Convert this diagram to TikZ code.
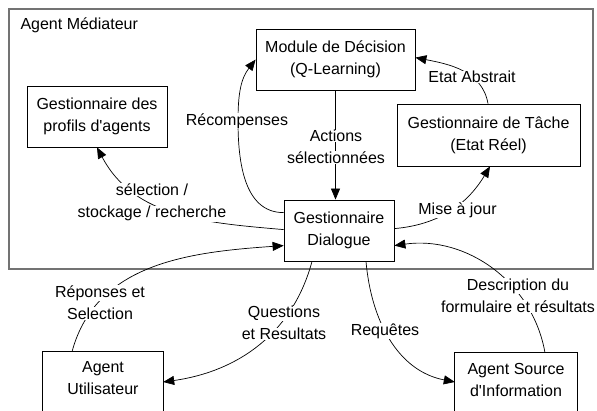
\documentclass[tikz,border=0pt]{standalone}
\usepackage{fontspec}
\setmainfont{Liberation Sans}[Ligatures=TeXOff]
\usetikzlibrary{arrows.meta}
\newcommand\wbx[1]{{\setlength\fboxsep{0.6pt}\colorbox{white}{#1}}}
\begin{document}
\begin{tikzpicture}[x=1pt,y=1pt,
  every node/.style={font=\fontsize{16}{22}\selectfont},
  box/.style={draw=black, line width=0.8pt, align=center, inner sep=0pt},
  lbl/.style={align=center, inner sep=0pt},
  arr/.style={line width=0.7pt, -{Triangle[length=11pt,width=9pt]}},
  frame/.style={draw=black!55, line width=1.6pt}]
\useasboundingbox (0,0) rectangle (597,410);
\clip (0,0) rectangle (597,410);
\fill[white] (0,0) rectangle (597,410);
% container
\draw[frame] (9,141) rectangle (593,401);
\node[anchor=west] (titre) at (17,385) {Agent Médiateur};
% boxes
\node[box, minimum width=159pt, minimum height=61pt] (mod) at (335.5,350.5) {Module de Décision\\(Q-Learning)};
\node[box, minimum width=140pt, minimum height=61pt] (prof) at (97,293.5) {Gestionnaire des\\profils d'agents};
\node[box, minimum width=183pt, minimum height=62pt] (tache) at (488.5,275) {Gestionnaire de Tâche\\(Etat Réel)};
\node[box, minimum width=110pt, minimum height=61pt] (dlg) at (339,179.5) {Gestionnaire\\Dialogue};
\node[lbl, minimum width=120pt, minimum height=53pt] (usr) at (103,31.5) {Agent\\Utilisateur};
\node[lbl, minimum width=122pt, minimum height=53pt] (src) at (516,30.5) {Agent Source\\d'Information};
\draw[line width=0.8pt] (usr.south west) ++(0,-10) |- (usr.north east) -- ++(0,-70);
\draw[line width=0.8pt] (src.south west) ++(0,-10) |- (src.north east) -- ++(0,-70);
% connectors
\coordinate (crec) at (238,289);
\draw[arr] ([yshift=-13pt]dlg.north west) to[out=180,in=-90] (crec) to[out=90,in=232] ([yshift=-31pt]mod.north west);
\draw[arr] (mod.south) -- (mod.south |- dlg.north);
\draw[arr] ([xshift=-0.5pt]tache.north) to[out=100,in=-11] ([yshift=-29pt]mod.north east);
\draw[arr] ([yshift=-29pt]dlg.north east) to[out=5,in=239] ([xshift=1.5pt]tache.south);
\draw[arr] ([yshift=-30pt]dlg.north west) to[out=175,in=-62] (prof.south);
\draw[arr] ([xshift=-31pt]usr.north) to[out=75,in=184] ([yshift=-46pt]dlg.north west);
\draw[arr] ([xshift=-27pt]dlg.south) to[out=-105,in=8] ([yshift=-3.5pt]usr.east);
\draw[arr] ([xshift=27pt]dlg.south) to[out=-85,in=169] ([yshift=-2.5pt]src.west);
\draw[arr] ([xshift=29pt]src.north) to[out=100,in=8] ([yshift=-46pt]dlg.north east);
% labels
\node[lbl] (lrec) at (237,289) {\wbx{Récompenses}};
\node[lbl] (lact) at (336,263) {\wbx{Actions}\\\wbx{sélectionnées}};
\node[lbl] (letat) at (472,333) {\wbx{Etat Abstrait}};
\node[lbl] (lsel) at (152,207.5) {\wbx{sélection /}\\\wbx{stockage / recherche}};
\node[lbl] (lmaj) at (457.5,200) {\wbx{Mise à jour}};
\node[lbl] (lrep) at (100,107.5) {\wbx{Réponses et}\\\wbx{Selection}};
\node[lbl] (lques) at (284,87) {\wbx{Questions}\\\wbx{et Resultats}};
\node[lbl] (lreq) at (385,79) {\wbx{Requêtes}};
\node[lbl] (ldesc) at (518,114.5) {\wbx{Description du}\\\wbx{formulaire et résultats}};
\end{tikzpicture}
\end{document}
